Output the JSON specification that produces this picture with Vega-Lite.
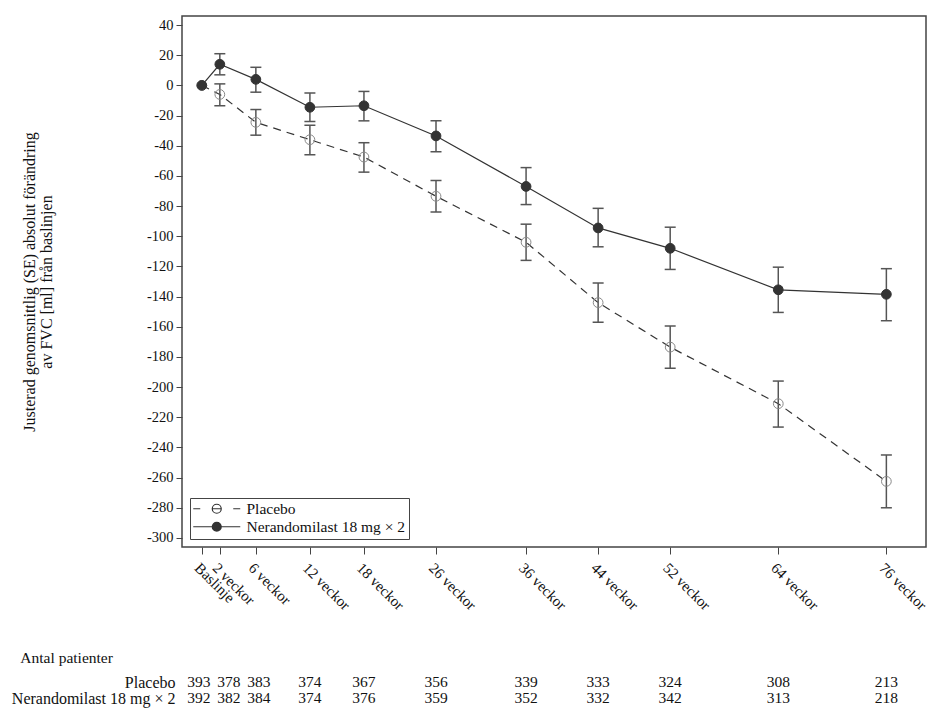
{
  "$schema": "https://vega.github.io/schema/vega-lite/v6.json",
  "background": "white",
  "padding": {"left": 11, "top": 15, "right": 5, "bottom": 5},
  "config": {
    "font": "Liberation Serif",
    "view": {"stroke": null},
    "concat": {"spacing": 36},
    "axisY": {
      "labelFontSize": 14.5,
      "labelColor": "#111",
      "labelPadding": 3,
      "labelFlush": false,
      "labelOverlap": false,
      "tickSize": 6,
      "tickColor": "#444",
      "domain": false,
      "grid": false
    }
  },
  "resolve": {
    "scale": {"shape": "independent"},
    "legend": {"shape": "independent"}
  },
  "datasets": {
    "fvc": [
      {"group": "Placebo", "week": 0, "mean": 0, "lo": null, "hi": null},
      {"group": "Placebo", "week": 2, "mean": -6, "lo": -13.5, "hi": 1},
      {"group": "Placebo", "week": 6, "mean": -24.5, "lo": -33, "hi": -16},
      {"group": "Placebo", "week": 12, "mean": -36, "lo": -46, "hi": -26.5},
      {"group": "Placebo", "week": 18, "mean": -47.5, "lo": -57.5, "hi": -38},
      {"group": "Placebo", "week": 26, "mean": -73.5, "lo": -84, "hi": -63},
      {"group": "Placebo", "week": 36, "mean": -104, "lo": -116, "hi": -92},
      {"group": "Placebo", "week": 44, "mean": -144, "lo": -157, "hi": -131},
      {"group": "Placebo", "week": 52, "mean": -173.5, "lo": -187.5, "hi": -159.5},
      {"group": "Placebo", "week": 64, "mean": -211, "lo": -226.5, "hi": -196},
      {"group": "Placebo", "week": 76, "mean": -262.5, "lo": -280, "hi": -245},
      {"group": "Nerandomilast 18 mg × 2", "week": 0, "mean": 0, "lo": null, "hi": null},
      {"group": "Nerandomilast 18 mg × 2", "week": 2, "mean": 14, "lo": 7, "hi": 21},
      {"group": "Nerandomilast 18 mg × 2", "week": 6, "mean": 4, "lo": -4.5, "hi": 12},
      {"group": "Nerandomilast 18 mg × 2", "week": 12, "mean": -14.5, "lo": -24, "hi": -5},
      {"group": "Nerandomilast 18 mg × 2", "week": 18, "mean": -13.5, "lo": -23.5, "hi": -4},
      {"group": "Nerandomilast 18 mg × 2", "week": 26, "mean": -33.5, "lo": -44, "hi": -23.5},
      {"group": "Nerandomilast 18 mg × 2", "week": 36, "mean": -67, "lo": -79, "hi": -54.5},
      {"group": "Nerandomilast 18 mg × 2", "week": 44, "mean": -94.5, "lo": -107, "hi": -81.5},
      {"group": "Nerandomilast 18 mg × 2", "week": 52, "mean": -108, "lo": -122, "hi": -94},
      {"group": "Nerandomilast 18 mg × 2", "week": 64, "mean": -135.5, "lo": -150.5, "hi": -120.5},
      {"group": "Nerandomilast 18 mg × 2", "week": 76, "mean": -138.5, "lo": -156, "hi": -121.5}
    ],
    "antal": [
      {"group": "Placebo", "week": 0, "n": 393},
      {"group": "Placebo", "week": 2, "n": 378},
      {"group": "Placebo", "week": 6, "n": 383},
      {"group": "Placebo", "week": 12, "n": 374},
      {"group": "Placebo", "week": 18, "n": 367},
      {"group": "Placebo", "week": 26, "n": 356},
      {"group": "Placebo", "week": 36, "n": 339},
      {"group": "Placebo", "week": 44, "n": 333},
      {"group": "Placebo", "week": 52, "n": 324},
      {"group": "Placebo", "week": 64, "n": 308},
      {"group": "Placebo", "week": 76, "n": 213},
      {"group": "Nerandomilast 18 mg × 2", "week": 0, "n": 392},
      {"group": "Nerandomilast 18 mg × 2", "week": 2, "n": 382},
      {"group": "Nerandomilast 18 mg × 2", "week": 6, "n": 384},
      {"group": "Nerandomilast 18 mg × 2", "week": 12, "n": 374},
      {"group": "Nerandomilast 18 mg × 2", "week": 18, "n": 376},
      {"group": "Nerandomilast 18 mg × 2", "week": 26, "n": 359},
      {"group": "Nerandomilast 18 mg × 2", "week": 36, "n": 352},
      {"group": "Nerandomilast 18 mg × 2", "week": 44, "n": 332},
      {"group": "Nerandomilast 18 mg × 2", "week": 52, "n": 342},
      {"group": "Nerandomilast 18 mg × 2", "week": 64, "n": 313},
      {"group": "Nerandomilast 18 mg × 2", "week": 76, "n": 218}
    ]
  },
  "vconcat": [
    {
      "width": 744,
      "height": 531,
      "view": {"stroke": "#444", "strokeWidth": 1.5},
      "data": {"name": "fvc"},
      "encoding": {
        "x": {
          "field": "week",
          "type": "quantitative",
          "scale": {"domain": [-2.2, 80.4], "nice": false, "zero": false},
          "axis": {
            "title": null,
            "values": [0, 2, 6, 12, 18, 26, 36, 44, 52, 64, 76],
            "labelExpr": "datum.value == 0 ? 'Baslinje' : datum.value + ' veckor'",
            "labelAngle": 45,
            "labelAlign": "left",
            "labelBaseline": "top",
            "labelPadding": 6,
            "labelFontSize": 15,
            "labelColor": "#111",
            "labelOverlap": false,
            "labelFlush": false,
            "labelBound": false,
            "tickSize": 7,
            "tickColor": "#444",
            "domain": false,
            "grid": false
          }
        },
        "y": {
          "field": "mean",
          "type": "quantitative",
          "scale": {"domain": [-306, 46], "nice": false, "zero": false},
          "axis": {
            "title": ["Justerad genomsnittlig (SE) absolut förändring", "av FVC [ml] från baslinjen"],
            "titleFontSize": 16,
            "titleFontWeight": "normal",
            "titleColor": "#111",
            "titleLineHeight": 17,
            "titlePadding": 92,
            "values": [-300, -280, -260, -240, -220, -200, -180, -160, -140, -120, -100, -80, -60, -40, -20, 0, 20, 40],
            "labelExpr": "'' + datum.value"
          }
        }
      },
      "layer": [
        {
          "transform": [{"filter": "datum.group === 'Placebo'"}],
          "mark": {"type": "line", "color": "#333", "strokeWidth": 1.2, "strokeDash": [8, 6]}
        },
        {
          "transform": [{"filter": "datum.group !== 'Placebo'"}],
          "mark": {"type": "line", "color": "#333", "strokeWidth": 1.2}
        },
        {
          "transform": [{"filter": "datum.lo != null"}],
          "mark": {"type": "rule", "color": "#555", "strokeWidth": 1.5},
          "encoding": {
            "y": {"field": "lo", "type": "quantitative"},
            "y2": {"field": "hi"}
          }
        },
        {
          "transform": [{"filter": "datum.lo != null"}],
          "mark": {"type": "tick", "orient": "horizontal", "size": 11, "thickness": 1.5, "color": "#555", "opacity": 1},
          "encoding": {"y": {"field": "lo", "type": "quantitative"}}
        },
        {
          "transform": [{"filter": "datum.hi != null"}],
          "mark": {"type": "tick", "orient": "horizontal", "size": 11, "thickness": 1.5, "color": "#555", "opacity": 1},
          "encoding": {"y": {"field": "hi", "type": "quantitative"}}
        },
        {
          "mark": {"type": "point", "shape": "circle", "size": 95, "strokeWidth": 1, "opacity": 1},
          "encoding": {
            "fill": {"condition": {"test": "datum.group === 'Placebo'", "value": "transparent"}, "value": "#333"},
            "stroke": {"condition": {"test": "datum.group === 'Placebo'", "value": "#888"}, "value": "#333"}
          }
        },
        {
          "mark": {"type": "point", "opacity": 0, "color": "#333"},
          "encoding": {
            "shape": {
              "field": "group",
              "type": "nominal",
              "scale": {
                "domain": ["Placebo", "Nerandomilast 18 mg × 2"],
                "range": [
                  "M-4.7,0H-3.3M-0.9,0H0.9M3.3,0H4.7M0.9,0A0.9,0.9 0 1,1 -0.9,0A0.9,0.9 0 1,1 0.9,0",
                  "M-4.7,0H4.7M0.9,0A0.9,0.9 0 1,1 -0.9,0A0.9,0.9 0 1,1 0.9,0M0.7,0A0.7,0.7 0 1,1 -0.7,0A0.7,0.7 0 1,1 0.7,0M0.5,0A0.5,0.5 0 1,1 -0.5,0A0.5,0.5 0 1,1 0.5,0M0.3,0A0.3,0.3 0 1,1 -0.3,0A0.3,0.3 0 1,1 0.3,0M0.12,0A0.12,0.12 0 1,1 -0.12,0A0.12,0.12 0 1,1 0.12,0"
                ]
              },
              "legend": {
                "title": null,
                "orient": "bottom-left",
                "offset": 8,
                "strokeColor": "#444",
                "fillColor": "white",
                "padding": 3,
                "symbolSize": 100,
                "symbolOffset": 16,
                "symbolStrokeWidth": 1.2,
                "symbolOpacity": 1,
                "labelOffset": 22,
                "labelFontSize": 15.5,
                "labelColor": "#111",
                "labelLimit": 300,
                "rowPadding": 1
              }
            }
          }
        }
      ]
    },
    {
      "width": 744,
      "height": 32,
      "data": {"name": "antal"},
      "title": {
        "text": "Antal patienter",
        "anchor": "start",
        "frame": "bounds",
        "dx": 9,
        "offset": 8,
        "fontSize": 15.5,
        "fontWeight": "normal",
        "color": "#111"
      },
      "mark": {
        "type": "text",
        "fontSize": 15.5,
        "color": "#111",
        "dx": {"expr": "datum.week == 0 ? -3 : datum.week == 2 ? 9 : datum.week == 6 ? 3 : 0"}
      },
      "encoding": {
        "x": {
          "field": "week",
          "type": "quantitative",
          "scale": {"domain": [-2.2, 80.4], "nice": false, "zero": false},
          "axis": null
        },
        "y": {
          "field": "group",
          "type": "nominal",
          "sort": ["Placebo", "Nerandomilast 18 mg × 2"],
          "scale": {"padding": 0.5},
          "axis": {
            "title": null,
            "ticks": false,
            "domain": false,
            "labelPadding": 7,
            "labelFontSize": 16,
            "labelColor": "#111",
            "labelLimit": 300
          }
        },
        "text": {"field": "n", "type": "quantitative"}
      }
    }
  ]
}
